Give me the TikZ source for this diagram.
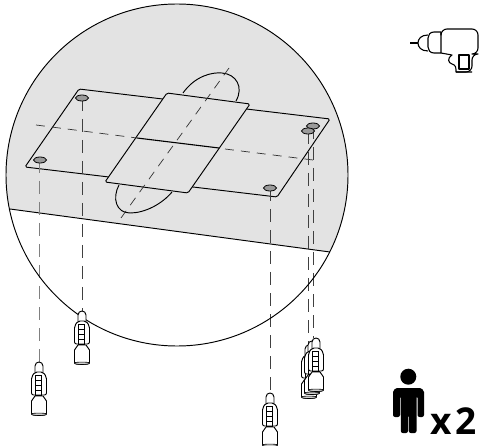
\documentclass[tikz,border=0pt]{standalone}
\usepackage{fontspec}
\setmainfont{Open Sans}
\usepackage{tikz}
\usetikzlibrary{positioning}
\definecolor{wallgray}{HTML}{E3E3E3}
\definecolor{holegray}{HTML}{9A9A9A}
\newcommand{\Wallanchor}[2]{%
  \begin{scope}[shift={(#1,#2)}]
  \draw[o, fill=white] (-4,11) -- (-4,4) .. controls (-4,1.5) and (-2,0) .. (0,0)
    .. controls (2,0) and (4,1.5) .. (4,4) -- (4,11) -- cycle;
  \draw[o, fill=white, rounded corners=2pt] (-4,10) -- (4,10) -- (7.5,15) -- (7.5,33) -- (-7.5,33) -- (-7.5,15) -- cycle;
  \draw[t] (-4,13) -- (2,13) -- (2,33) -- (-4,33) -- cycle;
  \foreach \y in {18,23,28} \draw[t] (-4,\y) -- (2,\y);
  \draw[o, fill=white] (-4,34) -- (4,34) -- (7.5,39) -- (7.5,52) .. controls (7.5,54) and (-7.5,54) .. (-7.5,52) -- (-7.5,39) -- cycle;
  \draw[t, fill=black!20] (-7.5,52) .. controls (-7.5,50.8) and (7.5,50.8) .. (7.5,52) .. controls (7.5,54) and (-7.5,54) .. (-7.5,52) -- cycle;
  \end{scope}}
\begin{document}
\begin{tikzpicture}[x=1pt, y=-1pt,
  o/.style={line width=0.95pt, line join=round},
  t/.style={line width=0.6pt},
  d/.style={line width=0.7pt, black!80, dash pattern=on 9pt off 7pt},
  v/.style={line width=0.8pt, black!75, dash pattern=on 13pt off 8pt},
  hole/.style={line width=0.8pt, fill=holegray}]
\useasboundingbox (0,0) rectangle (479,446);

% wall
\begin{scope}
\clip (177,175) circle[radius=171];
\fill[wallgray] (0,207.7) -- (10,209) -- (330,252) -- (360,256) -- (360,0) -- (0,0) -- cycle;
\draw[o] (10,209) -- (330,252);
\end{scope}

% template
\draw[o] (183,93) .. controls (195,76) and (212,72) .. (222,73)
  .. controls (236,74) and (244,87) .. (236,101);
\draw[o] (119,185) .. controls (112,198) and (116,213) .. (130,213)
  .. controls (145,213) and (162,204) .. (172,192);
\draw[o, rounded corners=1.5pt] (79,89) -- (330,119) -- (277,197) -- (25,167) -- cycle;
\draw[o, rounded corners=1.5pt, fill=wallgray] (167,93) -- (250,104) -- (188,193) -- (105,182) -- cycle;
\draw[line width=1.1pt] (137,138) -- (219,148);
\draw[d] (36,125) -- (137,138);
\draw[d] (225,149) -- (313,160);
\draw[d] (229,68) -- (121,218);

% drill lines
\draw[v, gray] (39,160) -- (39,362);
\draw[v] (82,98) -- (82,311);
\draw[v] (270,188) -- (270,392);
\draw[v] (308,131) -- (308,346);
\draw[v] (313,126) -- (313,338);
\draw[hole] (313,126) ellipse[x radius=6.5, y radius=3];
\draw[hole] (308,131) ellipse[x radius=6.5, y radius=3];
\draw[hole] (82,98) ellipse[x radius=6.5, y radius=3];
\draw[hole] (40,160) ellipse[x radius=6.5, y radius=3];
\draw[hole] (270,188) ellipse[x radius=6.5, y radius=3];

\draw[o] (177,175) circle[radius=171];

\Wallanchor{39}{362}
\Wallanchor{82}{311}
\Wallanchor{270}{393}
\Wallanchor{309}{345}
\Wallanchor{312}{341}
\Wallanchor{316}{338}

% drill
\draw[line width=2pt] (410,43) -- (418,43);
\draw[o, line width=1.1pt] (428,35) .. controls (421,35) and (418,39) .. (418,43)
  .. controls (418,47) and (421,51) .. (428,51);
\draw[o, line width=1.1pt] (441,32) -- (434,32) .. controls (430,32) and (428,35) .. (428,38)
  -- (428,47) .. controls (428,50) and (430,53) .. (434,53) -- (441,53) -- cycle;
\draw[o, line width=1.1pt, rounded corners=6pt] (441,33) -- (441,29) -- (478,29) -- (478,54) -- (472,54) -- (472,72) -- (456,72);
\draw[o, line width=1.1pt] (441,53) -- (452,55) .. controls (447,58) and (448,63) .. (452,64)
  .. controls (456,65) and (456,68) .. (456,72) -- (472,72);
\draw[o, line width=1.1pt] (459,55) rectangle (469,69);

% crew
\fill (408.3,376.7) circle[radius=8];
\fill[rounded corners=2pt] (393,417) -- (393,394) .. controls (393,390) and (396,388) .. (399,388)
  -- (418,388) .. controls (421,388) and (424,390) .. (424,394) -- (424,417)
  -- (417.5,417) -- (417.5,396) -- (416.5,396) -- (416.5,433) -- (408.8,433) -- (408.8,415)
  -- (408,415) -- (408,433) -- (400.8,433) -- (400.8,396) -- (400,396) -- (400,417) -- cycle;
\node[font=\fontsize{37}{37}\selectfont\bfseries, inner sep=0pt, anchor=base west] (crew) at (430,434) {\spaceskip=4pt x 2};
\end{tikzpicture}
\end{document}
